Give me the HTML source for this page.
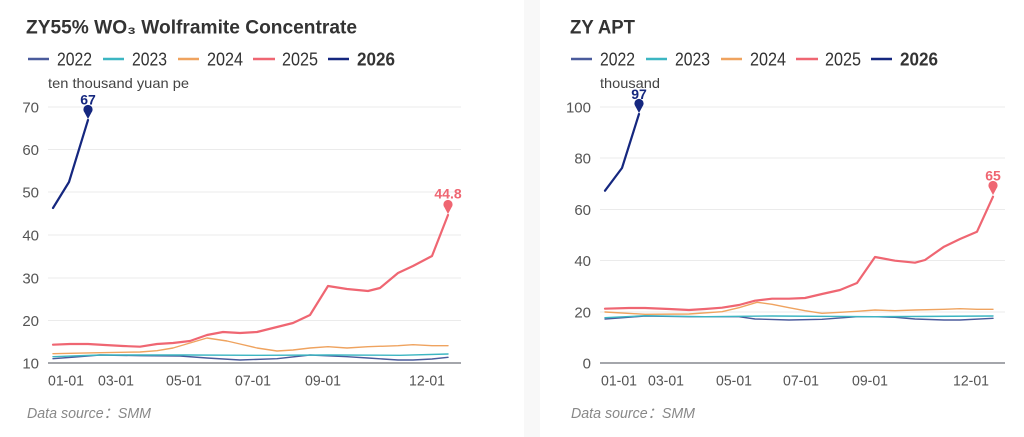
<!DOCTYPE html>
<html><head><meta charset="utf-8">
<style>
html,body{margin:0;padding:0;background:#fff;}
svg{display:block;}
text{font-family:"Liberation Sans","DejaVu Sans",sans-serif;}
</style></head>
<body>
<svg width="1024" height="437" viewBox="0 0 1024 437" xmlns="http://www.w3.org/2000/svg">
<rect x="0" y="0" width="1024" height="437" fill="#fff"/>
<rect x="524" y="0" width="16" height="437" fill="#f8f8f8"/>

<!-- LEFT PANEL -->
<text x="26" y="33.5" font-size="19" font-weight="bold" fill="#333" textLength="331" lengthAdjust="spacingAndGlyphs">ZY55% WO₃ Wolframite Concentrate</text>
<g stroke-width="2.5">
<line x1="28" y1="59" x2="49" y2="59" stroke="#4a5b9c"/>
<line x1="103" y1="59" x2="124" y2="59" stroke="#3cb6c2"/>
<line x1="178" y1="59" x2="199" y2="59" stroke="#efa35f"/>
<line x1="253" y1="59" x2="275" y2="59" stroke="#ef6672"/>
<line x1="328" y1="59" x2="349" y2="59" stroke="#15277f"/>
</g>
<g font-size="18" fill="#333">
<text x="57" y="65.5" textLength="35" lengthAdjust="spacingAndGlyphs">2022</text>
<text x="132" y="65.5" textLength="35" lengthAdjust="spacingAndGlyphs">2023</text>
<text x="207" y="65.5" textLength="36" lengthAdjust="spacingAndGlyphs">2024</text>
<text x="282" y="65.5" textLength="36" lengthAdjust="spacingAndGlyphs">2025</text>
<text x="357" y="65.5" textLength="38" lengthAdjust="spacingAndGlyphs" font-weight="bold">2026</text>
</g>
<text x="48" y="88" font-size="14" fill="#444" textLength="141" lengthAdjust="spacingAndGlyphs">ten thousand yuan pe</text>

<g stroke="#ebebeb" stroke-width="1">
<line x1="48" y1="107" x2="461" y2="107"/>
<line x1="48" y1="149.5" x2="461" y2="149.5"/>
<line x1="48" y1="192" x2="461" y2="192"/>
<line x1="48" y1="235" x2="461" y2="235"/>
<line x1="48" y1="278" x2="461" y2="278"/>
<line x1="48" y1="320.5" x2="461" y2="320.5"/>
</g>
<line x1="48" y1="363" x2="461" y2="363" stroke="#6e7079" stroke-width="1.2"/>
<g font-size="15" fill="#555" text-anchor="end">
<text x="39" y="112.5">70</text>
<text x="39" y="155">60</text>
<text x="39" y="197.5">50</text>
<text x="39" y="240.5">40</text>
<text x="39" y="283.5">30</text>
<text x="39" y="326">20</text>
<text x="39" y="368.5">10</text>
</g>
<g font-size="15" fill="#555">
<text x="48" y="385.5" textLength="36" lengthAdjust="spacingAndGlyphs">01-01</text>
<text x="98" y="385.5" textLength="36" lengthAdjust="spacingAndGlyphs">03-01</text>
<text x="166" y="385.5" textLength="36" lengthAdjust="spacingAndGlyphs">05-01</text>
<text x="235" y="385.5" textLength="36" lengthAdjust="spacingAndGlyphs">07-01</text>
<text x="305" y="385.5" textLength="36" lengthAdjust="spacingAndGlyphs">09-01</text>
<text x="409" y="385.5" textLength="36" lengthAdjust="spacingAndGlyphs">12-01</text>
</g>
<g fill="none" stroke-linejoin="round" stroke-linecap="round">
<polyline stroke="#4a5b9c" stroke-width="1.4" points="53,358.7 75,357 100,355 140,355.7 180,356 207,358 240,360 277,358.7 310,355 347,356.7 368,358 398,360 413,360 432,359 448,357.3"/>
<polyline stroke="#3cb6c2" stroke-width="1.4" points="53,356.7 100,355 187,355 260,355.3 328,355 400,355.3 448,354"/>
<polyline stroke="#efa35f" stroke-width="1.4" points="53,353.7 100,352.7 140,352 157,350.7 173,348 190,343 207,338 227,341 240,344 257,348 277,351 293,350 310,348 328,346.7 347,348 368,346.7 398,345.7 413,344.7 432,345.7 448,345.7"/>
<polyline stroke="#ef6672" stroke-width="2.2" points="53,344.7 70,344 88,344 105,345 123,346 140,346.7 157,344 173,343 190,341 207,335 223,332 240,333 257,332 273,328 293,323 310,315 328,286 347,289 368,291 380,288 398,273 413,266 432,256 448,215"/>
<polyline stroke="#15277f" stroke-width="2.2" points="53,208 69,182 88,120"/>
</g>
<path d="M88,119 L84.5,112.5 A4.6,4.6 0 1 1 91.5,112.5 Z" fill="#15277f"/>
<text x="88" y="104.5" font-size="14" font-weight="bold" fill="#15277f" text-anchor="middle">67</text>
<path d="M448,214 L444.5,207.5 A4.6,4.6 0 1 1 451.5,207.5 Z" fill="#ef6672"/>
<text x="448" y="198.5" font-size="14" font-weight="bold" fill="#ef6672" text-anchor="middle">44.8</text>
<text x="27" y="418" font-size="15" font-style="italic" fill="#888" textLength="124" lengthAdjust="spacingAndGlyphs">Data source：SMM</text>

<!-- RIGHT PANEL -->
<text x="570" y="33.5" font-size="19" font-weight="bold" fill="#333" textLength="65" lengthAdjust="spacingAndGlyphs">ZY APT</text>
<g stroke-width="2.5">
<line x1="571" y1="59" x2="592" y2="59" stroke="#4a5b9c"/>
<line x1="646" y1="59" x2="667" y2="59" stroke="#3cb6c2"/>
<line x1="721" y1="59" x2="742" y2="59" stroke="#efa35f"/>
<line x1="796" y1="59" x2="818" y2="59" stroke="#ef6672"/>
<line x1="871" y1="59" x2="892" y2="59" stroke="#15277f"/>
</g>
<g font-size="18" fill="#333">
<text x="600" y="65.5" textLength="35" lengthAdjust="spacingAndGlyphs">2022</text>
<text x="675" y="65.5" textLength="35" lengthAdjust="spacingAndGlyphs">2023</text>
<text x="750" y="65.5" textLength="36" lengthAdjust="spacingAndGlyphs">2024</text>
<text x="825" y="65.5" textLength="36" lengthAdjust="spacingAndGlyphs">2025</text>
<text x="900" y="65.5" textLength="38" lengthAdjust="spacingAndGlyphs" font-weight="bold">2026</text>
</g>
<text x="600" y="88" font-size="14" fill="#444" textLength="60" lengthAdjust="spacingAndGlyphs">thousand</text>

<g stroke="#ebebeb" stroke-width="1">
<line x1="600" y1="107" x2="1005" y2="107"/>
<line x1="600" y1="158" x2="1005" y2="158"/>
<line x1="600" y1="209.5" x2="1005" y2="209.5"/>
<line x1="600" y1="260.5" x2="1005" y2="260.5"/>
<line x1="600" y1="312" x2="1005" y2="312"/>
</g>
<line x1="600" y1="363" x2="1005" y2="363" stroke="#6e7079" stroke-width="1.2"/>
<g font-size="15" fill="#555" text-anchor="end">
<text x="591" y="112.5">100</text>
<text x="591" y="163.5">80</text>
<text x="591" y="215">60</text>
<text x="591" y="266">40</text>
<text x="591" y="317.5">20</text>
<text x="591" y="368.5">0</text>
</g>
<g font-size="15" fill="#555">
<text x="601" y="385.5" textLength="36" lengthAdjust="spacingAndGlyphs">01-01</text>
<text x="648" y="385.5" textLength="36" lengthAdjust="spacingAndGlyphs">03-01</text>
<text x="716" y="385.5" textLength="36" lengthAdjust="spacingAndGlyphs">05-01</text>
<text x="783" y="385.5" textLength="36" lengthAdjust="spacingAndGlyphs">07-01</text>
<text x="852" y="385.5" textLength="36" lengthAdjust="spacingAndGlyphs">09-01</text>
<text x="953" y="385.5" textLength="36" lengthAdjust="spacingAndGlyphs">12-01</text>
</g>
<g fill="none" stroke-linejoin="round" stroke-linecap="round">
<polyline stroke="#4a5b9c" stroke-width="1.4" points="605,319 625,317.5 645,316 689,316.7 739,316.7 755,319 789,320 822,319.3 857,316.7 875,316.7 895,317.3 915,319 944,320 960,320 993,318.3"/>
<polyline stroke="#3cb6c2" stroke-width="1.4" points="605,317.7 645,315.7 705,316.7 772,316 875,316.7 993,316"/>
<polyline stroke="#efa35f" stroke-width="1.4" points="605,312 645,314.3 689,314 722,311.7 739,307.7 757,302.3 772,304.3 789,307.7 805,310.7 822,313.3 840,312.3 857,311.3 875,310 895,310.7 915,310 944,309.3 960,308.7 977,309.3 993,309.3"/>
<polyline stroke="#ef6672" stroke-width="2.2" points="605,308.7 629,308 645,308 669,309 689,310 705,309 722,307.7 739,305 755,300.7 772,298.7 789,298.7 805,298 822,294 840,290 857,283 875,257 895,260.7 915,262.7 925,260 944,246.7 960,239 977,231.7 993,196.7"/>
<polyline stroke="#15277f" stroke-width="2.2" points="605,190.7 622,168 639,114"/>
</g>
<path d="M639,113 L635.5,106.5 A4.6,4.6 0 1 1 642.5,106.5 Z" fill="#15277f"/>
<text x="639" y="99" font-size="14" font-weight="bold" fill="#15277f" text-anchor="middle">97</text>
<path d="M993,195 L989.5,188.5 A4.6,4.6 0 1 1 996.5,188.5 Z" fill="#ef6672"/>
<text x="993" y="180.5" font-size="14" font-weight="bold" fill="#ef6672" text-anchor="middle">65</text>
<text x="571" y="418" font-size="15" font-style="italic" fill="#888" textLength="124" lengthAdjust="spacingAndGlyphs">Data source：SMM</text>
</svg>
</body></html>
